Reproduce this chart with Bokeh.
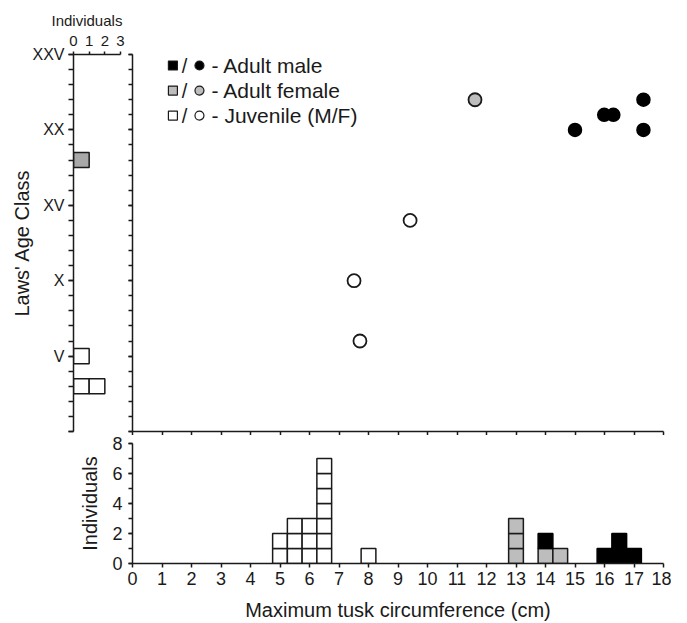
from bokeh.plotting import figure
from bokeh.layouts import column, row
from bokeh.models import Range1d, FixedTicker, Spacer
from bokeh.core.properties import value
from bokeh.embed import file_html
from bokeh.resources import INLINE

FONT = "Liberation Sans"
INK = "#1a1a1a"
GRAY = "#bdbdbd"

# ---------------- data ----------------
# scatter: maximum tusk circumference (cm) vs Laws' age class
juv_circ = [9.41, 7.51, 7.71]
juv_age = [14, 10, 6]
fem_circ = [11.61]
fem_age = [22]
male_circ = [15.0, 15.99, 16.3, 17.32, 17.32]
male_age = [20, 21, 21, 22, 20]

# histogram of circumference (bin centres, counts)
hist_juv_x = [5, 5.5, 6, 6.5, 8]
hist_juv_n = [2, 3, 3, 7, 1]
hist_fem_x = [13, 14, 14.5]
hist_fem_n = [3, 1, 1]
hist_male_x = [14, 16, 16.5, 17]
hist_male_n = [1, 1, 2, 1]

# histogram of age class (age class, counts)
age_juv = [3, 5]
age_juv_n = [2, 1]
age_fem = [18]
age_fem_n = [1]

roman_ticks = [0, 5, 10, 15, 20, 25]
roman_labels = ["", "V", "X", "XV", "XX", "XXV"]
age_minor = list(range(0, 26))
circ_ticks = list(range(0, 19))
hist_y_ticks = [0, 2, 4, 6, 8]
hist_y_minor = list(range(0, 9))
ind_ticks = [0, 1, 2, 3]

legend_labels = ["- Adult male", "- Adult female", "- Juvenile (M/F)"]
legend_fills = ["black", GRAY, "white"]

BIN_W = 0.5


def style_axis(ax, size, out=4):
    ax.axis_line_color = INK
    ax.axis_line_width = 1.5
    ax.major_tick_line_color = INK
    ax.minor_tick_line_color = INK
    ax.major_tick_line_width = 1.5
    ax.minor_tick_line_width = 1.5
    ax.major_tick_in = 0
    ax.minor_tick_in = 0
    ax.major_tick_out = out
    ax.minor_tick_out = out
    ax.major_label_text_font = FONT
    ax.major_label_text_font_size = size
    ax.major_label_text_color = INK
    ax.axis_label_text_font = FONT
    ax.axis_label_text_font_style = "normal"
    ax.axis_label_text_color = INK


def base_fig(**kw):
    p = figure(output_backend="svg", toolbar_location=None, **kw)
    p.outline_line_color = None
    p.xgrid.visible = False
    p.ygrid.visible = False
    p.background_fill_color = "white"
    p.border_fill_color = "white"
    return p


# ---------------- left: age-class histogram ----------------
left = base_fig(frame_width=47, frame_height=377,
                x_range=Range1d(0, 3), y_range=Range1d(0, 25),
                x_axis_location="above", title="Individuals",
                min_border_left=73, min_border_right=6,
                min_border_top=54, min_border_bottom=4)
left.title.align = "left"
left.title.offset = -22
left.title.text_font = FONT
left.title.text_font_size = "15px"
left.title.text_font_style = "normal"
left.title.text_color = INK
left.title.standoff = 8

xa = left.xaxis[0]
style_axis(xa, "15px", out=3)
xa.ticker = FixedTicker(ticks=ind_ticks, minor_ticks=[])
xa.major_label_standoff = 6

ya = left.yaxis[0]
style_axis(ya, "16px", out=5)
ya.ticker = FixedTicker(ticks=roman_ticks, minor_ticks=age_minor)
ya.major_label_overrides = {t: l for t, l in zip(roman_ticks, roman_labels)}
ya.axis_label = "Laws' Age Class"
ya.axis_label_text_font_size = "20px"
ya.major_label_standoff = 4
ya.axis_label_standoff = -4


def age_squares(ages, counts):
    l, r, b, t = [], [], [], []
    for a, n in zip(ages, counts):
        for i in range(n):
            l.append(i); r.append(i + 1)
            b.append(a - 0.5); t.append(a + 0.5)
    return dict(left=l, right=r, bottom=b, top=t)


left.quad(**age_squares(age_juv, age_juv_n),
          fill_color="white", line_color=INK, line_width=1.5)
left.quad(**age_squares(age_fem, age_fem_n),
          fill_color="#a8a8a8", line_color=INK, line_width=1.5)

# ---------------- main scatter ----------------
main = base_fig(frame_width=531, frame_height=377,
                x_range=Range1d(0, 18), y_range=Range1d(0, 25),
                min_border_left=6, min_border_right=8,
                min_border_top=54, min_border_bottom=4)
mx = main.xaxis[0]
style_axis(mx, "1px", out=4)
mx.ticker = FixedTicker(ticks=circ_ticks, minor_ticks=[])
mx.major_label_standoff = 0
mx.major_label_text_color = None
my = main.yaxis[0]
style_axis(my, "1px", out=4)
my.ticker = FixedTicker(ticks=roman_ticks, minor_ticks=age_minor)
my.major_label_standoff = 0
my.major_label_text_color = None

main.scatter(juv_circ, juv_age, size=13, marker="circle",
             fill_color="white", line_color=INK, line_width=1.8)
main.scatter(fem_circ, fem_age, size=13, marker="circle",
             fill_color=GRAY, line_color=INK, line_width=1.8)
main.scatter(male_circ, male_age, size=13, marker="circle",
             fill_color="black", line_color="black", line_width=1.5)

# legend (positions in data space of the main panel)
leg_y = [24.27, 22.61, 20.95]
main.scatter([1.37] * 3, leg_y, marker="square", size=9,
             fill_color=legend_fills, line_color=INK, line_width=1.2)
main.scatter([2.27] * 3, leg_y, marker="circle", size=9,
             fill_color=legend_fills, line_color=INK, line_width=1.2)
main.text([1.76] * 3, leg_y, text=["/"] * 3, text_font=value(FONT),
          text_font_size="20px", text_color=INK,
          text_align="center", text_baseline="middle")
main.text([2.68] * 3, leg_y, text=legend_labels, text_font=value(FONT),
          text_font_size="21px", text_color=INK,
          text_align="left", text_baseline="middle")

# ---------------- bottom histogram ----------------
hist = base_fig(frame_width=531, frame_height=120,
                x_range=Range1d(0, 18), y_range=Range1d(0, 8),
                min_border_left=60, min_border_right=8,
                min_border_top=8, min_border_bottom=60)
hx = hist.xaxis[0]
style_axis(hx, "18px", out=4)
hx.ticker = FixedTicker(ticks=circ_ticks, minor_ticks=[])
hx.axis_label = "Maximum tusk circumference (cm)"
hx.axis_label_text_font_size = "20px"
hx.major_label_standoff = 4
hx.axis_label_standoff = 11
hy = hist.yaxis[0]
style_axis(hy, "18px", out=4)
hy.ticker = FixedTicker(ticks=hist_y_ticks, minor_ticks=hist_y_minor)
hy.axis_label = "Individuals"
hy.axis_label_text_font_size = "20px"
hy.major_label_standoff = 6
hy.axis_label_standoff = 8

base = {}


def circ_squares(xs, ns):
    l, r, b, t = [], [], [], []
    for x, n in zip(xs, ns):
        b0 = base.get(x, 0)
        for k in range(n):
            l.append(x - BIN_W / 2); r.append(x + BIN_W / 2)
            b.append(b0 + k); t.append(b0 + k + 1)
        base[x] = b0 + n
    return dict(left=l, right=r, bottom=b, top=t)


hist.quad(**circ_squares(hist_juv_x, hist_juv_n),
          fill_color="white", line_color=INK, line_width=1.5)
hist.quad(**circ_squares(hist_fem_x, hist_fem_n),
          fill_color=GRAY, line_color=INK, line_width=1.5)
hist.quad(**circ_squares(hist_male_x, hist_male_n),
          fill_color="black", line_color="black", line_width=1.5)

layout = column(row(left, main), row(Spacer(width=72, height=10), hist))

open("out.html", "w").write(file_html(layout, INLINE))
